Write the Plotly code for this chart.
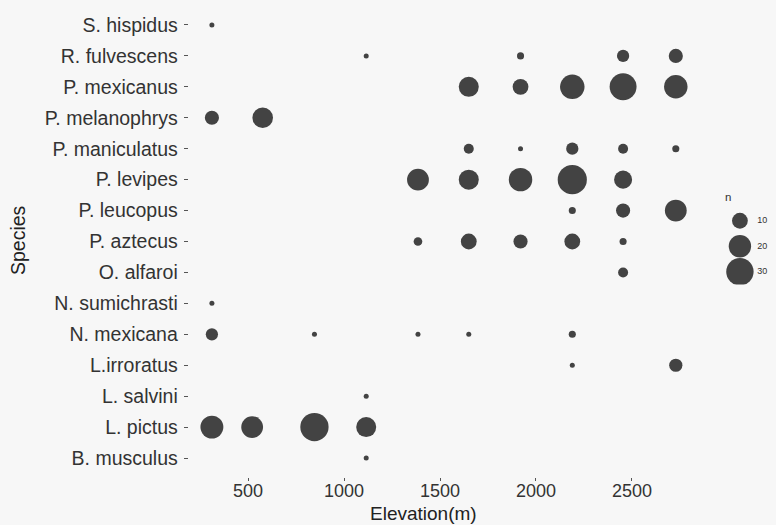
import plotly.graph_objects as go

# Trapping records: species, elevation of the site (m) and number of captures
species = [
    "S. hispidus",
    "R. fulvescens", "R. fulvescens", "R. fulvescens", "R. fulvescens",
    "P. mexicanus", "P. mexicanus", "P. mexicanus", "P. mexicanus", "P. mexicanus",
    "P. melanophrys", "P. melanophrys",
    "P. maniculatus", "P. maniculatus", "P. maniculatus", "P. maniculatus", "P. maniculatus",
    "P. levipes", "P. levipes", "P. levipes", "P. levipes", "P. levipes",
    "P. leucopus", "P. leucopus", "P. leucopus",
    "P. aztecus", "P. aztecus", "P. aztecus", "P. aztecus", "P. aztecus",
    "O. alfaroi",
    "N. sumichrasti",
    "N. mexicana", "N. mexicana", "N. mexicana", "N. mexicana", "N. mexicana",
    "L.irroratus", "L.irroratus",
    "L. salvini",
    "L. pictus", "L. pictus", "L. pictus", "L. pictus",
    "B. musculus",
]
elevation = [
    310,
    1115, 1920, 2455, 2730,
    1650, 1920, 2190, 2455, 2730,
    310, 575,
    1650, 1920, 2190, 2455, 2730,
    1385, 1650, 1920, 2190, 2455,
    2190, 2455, 2730,
    1385, 1650, 1920, 2190, 2455,
    2455,
    310,
    310, 845, 1385, 1650, 2190,
    2190, 2730,
    1115,
    310, 520, 845, 1115,
    1115,
]
n = [
    1,
    1, 2, 6, 8,
    16, 10, 24, 29, 22,
    8, 17,
    4, 1, 6, 4, 2,
    19, 16, 22, 34, 13,
    2, 8, 19,
    3, 10, 8, 10, 2,
    4,
    1,
    6, 1, 1, 1, 2,
    1, 7,
    1,
    21, 19, 32, 16,
    1,
]

# Species order on the y axis, bottom to top
species_order = [
    "B. musculus", "L. pictus", "L. salvini", "L.irroratus", "N. mexicana",
    "N. sumichrasti", "O. alfaroi", "P. aztecus", "P. leucopus", "P. levipes",
    "P. maniculatus", "P. melanophrys", "P. mexicanus", "R. fulvescens", "S. hispidus",
]

x_ticks = [500, 1000, 1500, 2000, 2500]
legend_n = [10, 20, 30]
legend_labels = [str(v) for v in legend_n]

W, H = 776, 525
POINT = "#434343"
BG = "#f7f7f7"
TEXT = "#333333"
FONT = "Liberation Sans, Arial, sans-serif"
SIZEREF = 0.08  # bubble area scale shared by the plot and its size key

# ggplot-style 5% padding on the continuous axis
lo, hi = min(elevation), max(elevation)
pad = 0.05 * (hi - lo)

fig = go.Figure()

fig.add_trace(go.Scatter(
    x=elevation, y=species, mode="markers",
    marker=dict(size=n, sizemode="area", sizeref=SIZEREF, color=POINT,
                opacity=1, line=dict(width=0)),
    xaxis="x", yaxis="y", showlegend=False, hoverinfo="x+y+text",
    text=[f"n = {v}" for v in n],
))

# Size key drawn on its own small axes at the right
fig.add_trace(go.Scatter(
    x=[0.535] * len(legend_n), y=legend_labels, mode="markers",
    marker=dict(size=legend_n, sizemode="area", sizeref=SIZEREF, color=POINT,
                opacity=1, line=dict(width=0)),
    xaxis="x2", yaxis="y2", showlegend=False, hoverinfo="skip",
))
fig.add_trace(go.Scatter(
    x=[0.76] * len(legend_n), y=legend_labels, mode="text",
    text=legend_labels, textposition="middle right",
    textfont=dict(family=FONT, size=9, color=TEXT),
    xaxis="x2", yaxis="y2", showlegend=False, hoverinfo="skip",
))

px0, px1 = 188.7, 699.0
py_top, py_bot = 6.4, 476.6

# x tick labels placed close under the short tick marks
x_tick_labels = [
    dict(text=str(v), xref="x", yref="paper", x=v, y=1 - 491 / H,
         xanchor="center", yanchor="middle", showarrow=False,
         font=dict(size=18, color=TEXT))
    for v in x_ticks
]

fig.update_layout(
    width=W, height=H,
    margin=dict(l=0, r=0, t=0, b=0),
    paper_bgcolor=BG, plot_bgcolor=BG,
    font=dict(family=FONT, color=TEXT),
    xaxis=dict(
        domain=[px0 / W, px1 / W], range=[lo - pad, hi + pad],
        tickvals=x_ticks, showticklabels=False,
        showgrid=False, zeroline=False, showline=False,
        ticks="outside", ticklen=3, tickwidth=1, tickcolor="#555555",
        anchor="y",
    ),
    yaxis=dict(
        domain=[1 - py_bot / H, 1 - py_top / H],
        type="category", categoryorder="array", categoryarray=species_order,
        range=[-0.6, len(species_order) - 0.4],
        showgrid=False, zeroline=False, showline=False,
        ticks="outside", ticklen=4, tickwidth=1, tickcolor="#555555",
        ticklabelstandoff=2,
        tickfont=dict(size=19.5, color=TEXT),
        anchor="x",
    ),
    xaxis2=dict(domain=[698.4 / W, 1.0], range=[0, 1], visible=False,
                fixedrange=True, anchor="y2"),
    yaxis2=dict(domain=[1 - 284.5 / H, 1 - 208.0 / H], type="category",
                categoryorder="array", categoryarray=legend_labels[::-1],
                range=[-0.5, 2.5], visible=False, fixedrange=True, anchor="x2"),
    annotations=x_tick_labels + [
        dict(text="Elevation(m)", xref="paper", yref="paper",
             x=424 / W, y=1 - 513 / H, xanchor="center", yanchor="middle",
             showarrow=False, font=dict(size=19, color="#222222")),
        dict(text="Species", xref="paper", yref="paper",
             x=18 / W, y=1 - 240 / H, xanchor="center", yanchor="middle",
             textangle=-90, showarrow=False, font=dict(size=19.5, color="#222222")),
        dict(text="n", xref="paper", yref="paper",
             x=723 / W, y=1 - 197 / H, xanchor="left", yanchor="middle",
             showarrow=False, font=dict(size=11.5, color=TEXT)),
    ],
)

fig.write_html("out.html")
